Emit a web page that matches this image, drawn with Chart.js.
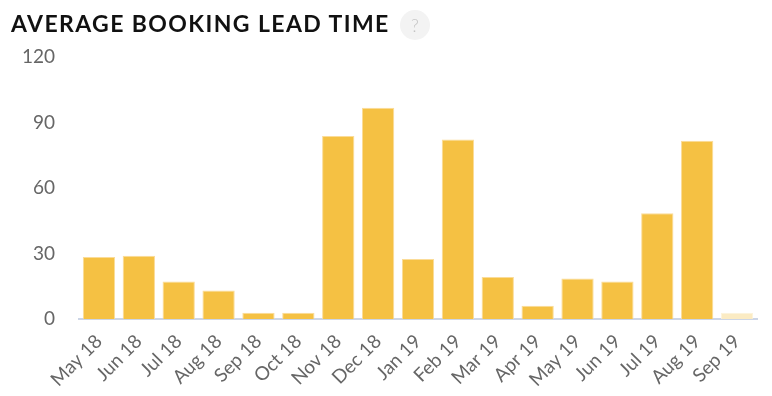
<!DOCTYPE html>
<html>
<head>
<meta charset="utf-8">
<script src="https://cdn.jsdelivr.net/npm/chart.js@4/dist/chart.umd.min.js"></script>
<style>
    html, body { margin: 0; padding: 0; background: #fff; }
    #wrap { position: relative; width: 772px; height: 396px; }
    #title {
        position: absolute; left: 11px; top: 9px;
        font-family: 'Lato', sans-serif; font-weight: 700; font-size: 23px;
        letter-spacing: 1.4px; color: #111; white-space: nowrap;
    }
    #help {
        position: absolute; left: 400px; top: 10px; width: 30px; height: 30px;
        border-radius: 50%; background: #f3f3f3; color: #c4c4c4;
        font-family: 'Lato', sans-serif; font-weight: 300; font-size: 18px;
        text-align: center; line-height: 30px;
    }
</style>
</head>
<body>
<div id="wrap">
    <div id="title">AVERAGE BOOKING LEAD TIME</div>
    <div id="help">?</div>
    <canvas id="leadTimeChart" width="772" height="396"></canvas>
</div>
<script>
// Months shown on the x axis
const months = ['May 18', 'Jun 18', 'Jul 18', 'Aug 18', 'Sep 18', 'Oct 18', 'Nov 18', 'Dec 18',
    'Jan 19', 'Feb 19', 'Mar 19', 'Apr 19', 'May 19', 'Jun 19', 'Jul 19', 'Aug 19', 'Sep 19'];

// Average lead time in days
const leadDays = [28.4, 29, 17.2, 13.1, 2.9, 2.9, 83.8, 96.8, 27.5, 82.2, 19.2, 6.1, 18.6, 17.2, 48.4, 81.6, 2.9];

// Y axis ticks
const yTicks = [0, 30, 60, 90, 120];

// Last month is still in progress, shown paler
const barColors = months.map(function(m, i) {
    return i === months.length - 1 ? '#fbebc3' : '#f5c143';
});
const borderColors = months.map(function(m, i) {
    return i === months.length - 1 ? '#fdf3da' : '#fbdc98';
});

new Chart(document.getElementById('leadTimeChart'), {
    type: 'bar',
    data: {
        labels: months,
        datasets: [{
            data: leadDays,
            backgroundColor: barColors,
            borderColor: borderColors,
            borderWidth: { top: 1, left: 1, right: 1, bottom: 0 },
            barPercentage: 0.9,
            categoryPercentage: 0.9
        }]
    },
    options: {
        responsive: false,
        animation: false,
        layout: {
            padding: { top: 57, right: 15, bottom: 0, left: 0 }
        },
        plugins: {
            legend: { display: false },
            tooltip: { enabled: false }
        },
        scales: {
            x: {
                grid: { display: false, drawTicks: false },
                border: { display: true, color: '#ccd5e6', width: 2 },
                ticks: {
                    color: '#666',
                    font: { family: 'Lato', size: 19 },
                    minRotation: 45,
                    maxRotation: 45,
                    autoSkip: false,
                    padding: 11
                },
                afterFit: function(scale) { scale.height = 77; }
            },
            y: {
                min: 0,
                max: 120,
                afterBuildTicks: function(scale) {
                    scale.ticks = yTicks.map(function(v) { return { value: v }; });
                },
                grid: { display: false, drawTicks: false },
                border: { display: false },
                ticks: {
                    color: '#666',
                    font: { family: 'Lato', size: 19 },
                    padding: 24
                },
                afterFit: function(scale) { scale.width = 79; }
            }
        }
    }
});
</script>
</body>
</html>
